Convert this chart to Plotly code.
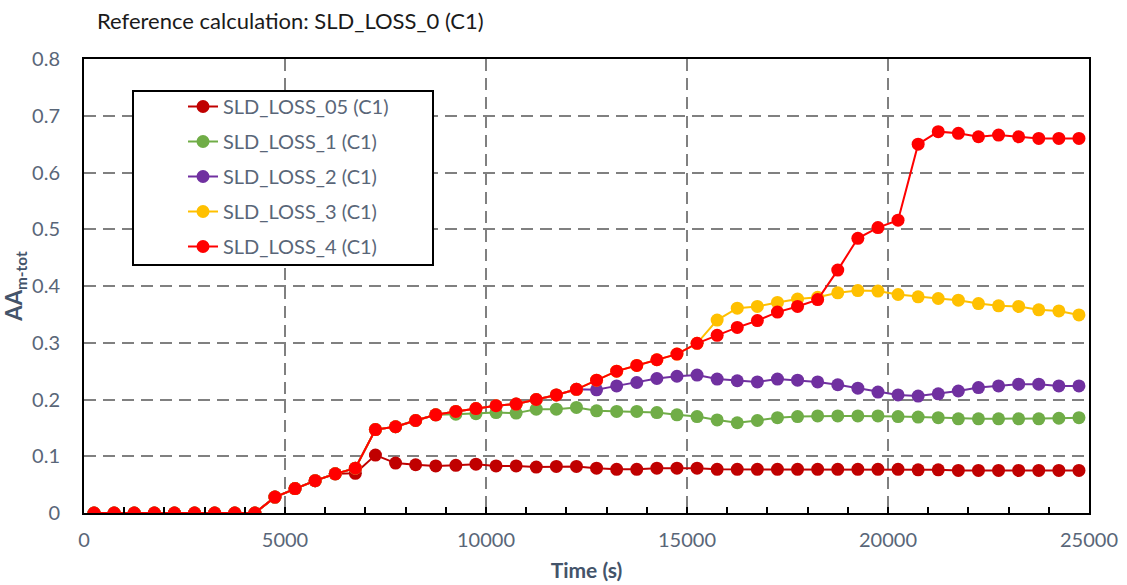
import plotly.graph_objects as go

# Time axis: one sample every 500 s, starting at 250 s
time_s = [250 + 500 * i for i in range(50)]

sld_loss_05 = [0, 0, 0, 0, 0, 0, 0, 0, 0, 0.028, 0.043, 0.057, 0.069, 0.070, 0.102,
               0.088, 0.085, 0.083, 0.084, 0.086, 0.083, 0.083, 0.081, 0.082, 0.082,
               0.079, 0.077, 0.077, 0.079, 0.079, 0.079, 0.077, 0.077, 0.077, 0.077,
               0.077, 0.077, 0.077, 0.077, 0.077, 0.077, 0.076, 0.076, 0.075, 0.075,
               0.075, 0.075, 0.075, 0.075, 0.075]

sld_loss_1 = [0, 0, 0, 0, 0, 0, 0, 0, 0, 0.028, 0.043, 0.057, 0.069, 0.079, 0.147,
              0.152, 0.163, 0.173, 0.174, 0.175, 0.177, 0.176, 0.183, 0.183, 0.186,
              0.180, 0.179, 0.179, 0.177, 0.173, 0.170, 0.164, 0.159, 0.163, 0.168,
              0.170, 0.171, 0.171, 0.171, 0.171, 0.170, 0.169, 0.168, 0.166, 0.166,
              0.166, 0.166, 0.166, 0.167, 0.168]

sld_loss_2 = [0, 0, 0, 0, 0, 0, 0, 0, 0, 0.028, 0.043, 0.057, 0.069, 0.079, 0.147,
              0.152, 0.163, 0.173, 0.179, 0.184, 0.189, 0.192, 0.200, 0.208, 0.218,
              0.217, 0.224, 0.230, 0.237, 0.241, 0.243, 0.236, 0.233, 0.231, 0.236,
              0.234, 0.231, 0.226, 0.220, 0.213, 0.208, 0.206, 0.210, 0.215, 0.221,
              0.224, 0.227, 0.227, 0.224, 0.224]

sld_loss_3 = [0, 0, 0, 0, 0, 0, 0, 0, 0, 0.028, 0.043, 0.057, 0.069, 0.079, 0.147,
              0.152, 0.163, 0.173, 0.179, 0.184, 0.189, 0.192, 0.200, 0.208, 0.218,
              0.234, 0.250, 0.260, 0.270, 0.280, 0.299, 0.340, 0.361, 0.364, 0.371,
              0.377, 0.380, 0.388, 0.392, 0.391, 0.385, 0.381, 0.378, 0.375, 0.369,
              0.365, 0.364, 0.358, 0.356, 0.349]

sld_loss_4 = [0, 0, 0, 0, 0, 0, 0, 0, 0, 0.028, 0.043, 0.057, 0.069, 0.079, 0.147,
              0.152, 0.163, 0.173, 0.179, 0.184, 0.189, 0.192, 0.200, 0.208, 0.218,
              0.234, 0.250, 0.260, 0.270, 0.280, 0.299, 0.313, 0.327, 0.339, 0.354,
              0.364, 0.376, 0.428, 0.484, 0.503, 0.516, 0.650, 0.672, 0.669, 0.663,
              0.666, 0.663, 0.660, 0.660, 0.660]

series_names = ["SLD_LOSS_05 (C1)", "SLD_LOSS_1 (C1)", "SLD_LOSS_2 (C1)",
                "SLD_LOSS_3 (C1)", "SLD_LOSS_4 (C1)"]
series_values = [sld_loss_05, sld_loss_1, sld_loss_2, sld_loss_3, sld_loss_4]
series_colors = ["#C00000", "#70AD47", "#7030A0", "#FFC000", "#FF0000"]

x_ticks = [0, 5000, 10000, 15000, 20000, 25000]
y_ticks = [0, 0.1, 0.2, 0.3, 0.4, 0.5, 0.6, 0.7, 0.8]

FONT = "Lato"
TICK_COLOR = "#596678"
TITLE_COLOR = "#44546A"

fig = go.Figure()
for name, vals, color in zip(series_names, series_values, series_colors):
    fig.add_trace(go.Scatter(
        x=time_s, y=vals, name=name, mode="lines+markers",
        line=dict(color=color, width=2),
        marker=dict(color=color, size=13),
        legendgroup=name,
    ))

grid = dict(showgrid=True, gridcolor="#808080", gridwidth=2, griddash="12px,7px")

# legend frame (pixel box converted to paper fractions of the plot area)
plot_l, plot_r, plot_t, plot_b = 84, 1089, 59, 513
box_l, box_r, box_t, box_b = 133, 433, 91, 265

fig.update_layout(
    width=1127, height=585,
    margin=dict(l=84, r=38, t=59, b=72, autoexpand=False),
    paper_bgcolor="white", plot_bgcolor="white",
    font=dict(family=FONT, size=19, color=TICK_COLOR),
    title=dict(text="Reference calculation: SLD_LOSS_0 (C1)",
               font=dict(family=FONT, size=22, color="#1a1a1a"),
               x=97 / 1127, xanchor="left", y=1 - 21 / 585, yanchor="middle"),
    showlegend=True,
    legend=dict(x=(183 - plot_l) / (plot_r - plot_l),
                y=(plot_b - 87) / (plot_b - plot_t),
                xanchor="left", yanchor="top",
                bgcolor="rgba(0,0,0,0)", borderwidth=0,
                itemwidth=30,
                traceorder="grouped", tracegroupgap=6,
                font=dict(family=FONT, size=20, color=TICK_COLOR)),
    shapes=[dict(type="rect", xref="paper", yref="paper",
                 x0=(box_l - plot_l) / (plot_r - plot_l),
                 x1=(box_r - plot_l) / (plot_r - plot_l),
                 y0=(plot_b - box_b) / (plot_b - plot_t),
                 y1=(plot_b - box_t) / (plot_b - plot_t),
                 fillcolor="white", line=dict(color="black", width=2),
                 layer="above")],
)

fig.update_xaxes(
    range=[0, 25000], tickvals=x_ticks, ticktext=[str(v) for v in x_ticks],
    showline=True, linecolor="black", linewidth=2, mirror=True,
    ticks="inside", ticklen=6, tickcolor="black", tickwidth=2,
    minor=dict(dtick=1000, ticks="inside", ticklen=6, tickcolor="black", tickwidth=2,
               showgrid=False),
    ticklabelstandoff=8, automargin=False,
    tickfont=dict(family=FONT, size=20, color=TICK_COLOR),
    title=dict(text="<b>Time (s)</b>", standoff=13,
               font=dict(family=FONT, size=21, color=TITLE_COLOR)),
    zeroline=False, **grid,
)
fig.update_yaxes(
    range=[0, 0.8], tickvals=y_ticks, ticktext=[("%g" % v) for v in y_ticks],
    showline=True, linecolor="black", linewidth=2, mirror=True,
    ticks="", ticklabelstandoff=18, automargin=False,
    tickfont=dict(family=FONT, size=20, color=TICK_COLOR),
    title=dict(text="<b>AA<sub>m-tot</sub></b>", standoff=4,
               font=dict(family=FONT, size=22, color=TITLE_COLOR)),
    zeroline=False, **grid,
)

fig.write_html("out.html")
